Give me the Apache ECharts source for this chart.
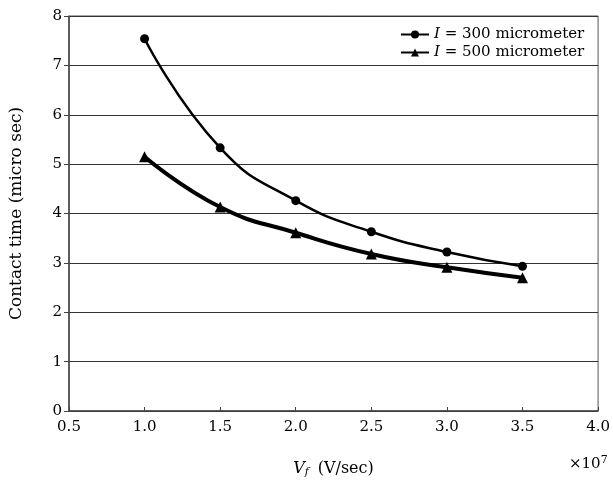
<!DOCTYPE html>
<html>
<head>
<meta charset="utf-8">
<script src="https://cdn.jsdelivr.net/npm/echarts@6/dist/echarts.min.js"></script>
<style>
html,body{margin:0;padding:0;background:#fff;}
#chart{width:613px;height:483px;}
</style>
</head>
<body>
<div id="chart"></div>
<script>
var xValues = [1.0, 1.5, 2.0, 2.5, 3.0, 3.5];
var series300 = [7.54, 5.33, 4.26, 3.63, 3.22, 2.93];
var series500 = [5.15, 4.13, 3.61, 3.18, 2.91, 2.70];
var seriesNames = ['I300', 'I500'];
var legendLabels = { I300: '300', I500: '500' };
var xTicks = [0.5, 1.0, 1.5, 2.0, 2.5, 3.0, 3.5, 4.0];
var yTicks = [0, 1, 2, 3, 4, 5, 6, 7, 8];

function pairs(ys) { return xValues.map(function (x, i) { return [x, ys[i]]; }); }

var FONT = 'DejaVu Serif';
var chart = echarts.init(document.getElementById('chart'), null, { renderer: 'canvas' });
chart.setOption({
  backgroundColor: '#fff',
  animation: false,
  grid: { left: 69, right: 10, top: 16, bottom: 70, show: true, borderColor: '#555', borderWidth: 1, backgroundColor: 'transparent' },
  legend: {
    orient: 'vertical',
    left: 395,
    top: 22,
    itemWidth: 28,
    itemHeight: 10,
    itemGap: 3,
    data: seriesNames,
    formatter: function (n) { return '{i|I} {t|= ' + legendLabels[n] + ' micrometer}'; },
    textStyle: {
      fontFamily: FONT, fontSize: 15, color: '#000',
      rich: {
        i: { fontFamily: FONT, fontStyle: 'italic', fontSize: 15, color: '#000' },
        t: { fontFamily: FONT, fontSize: 15, color: '#000' }
      }
    }
  },
  xAxis: {
    type: 'value',
    min: 0.5, max: 4.0, interval: 0.5,
    axisLine: { show: true, lineStyle: { color: '#444', width: 1.5 } },
    axisTick: { show: true, inside: true, length: 4, lineStyle: { color: '#444' } },
    splitLine: { show: false },
    axisLabel: { fontFamily: FONT, fontSize: 15, color: '#000', margin: 9,
      formatter: function (v) { return v.toFixed(1); } },
    name: '{v|V}{s|f} {t|(V/sec)}',
    nameLocation: 'middle',
    nameGap: 48,
    nameTextStyle: {
      fontFamily: FONT, fontSize: 15, color: '#000',
      rich: {
        v: { fontFamily: FONT, fontStyle: 'italic', fontSize: 16, color: '#000' },
        s: { fontFamily: FONT, fontStyle: 'italic', fontSize: 11, color: '#000', verticalAlign: 'bottom', padding: [8, 0, 0, 0] },
        t: { fontFamily: FONT, fontSize: 16, color: '#000', padding: [0, 0, 0, 4] }
      }
    }
  },
  yAxis: {
    type: 'value',
    min: 0, max: 8, interval: 1,
    axisLine: { show: true, lineStyle: { color: '#444', width: 1.5 } },
    axisTick: { show: true, inside: false, length: 5, lineStyle: { color: '#444' } },
    splitLine: { show: true, lineStyle: { color: '#333', width: 1.2 } },
    axisLabel: { fontFamily: FONT, fontSize: 15, color: '#000', margin: 7 },
    name: 'Contact time (micro sec)',
    nameLocation: 'middle',
    nameGap: 44,
    nameTextStyle: { fontFamily: FONT, fontSize: 17, color: '#000' }
  },
  graphic: [{
    type: 'text',
    left: 569, top: 455,
    style: {
      text: '{m|×10}{e|7}',
      rich: {
        m: { fontFamily: FONT, fontSize: 15, fill: '#000' },
        e: { fontFamily: FONT, fontSize: 11, fill: '#000', verticalAlign: 'top', padding: [0, 0, 8, 0] }
      }
    }
  }],
  series: [
    {
      name: 'I300', type: 'line', smooth: 0.5,
      data: pairs(series300),
      symbol: 'circle', symbolSize: 9,
      lineStyle: { color: '#000', width: 2.5 },
      itemStyle: { color: '#000' }
    },
    {
      name: 'I500', type: 'line', smooth: 0.5,
      data: pairs(series500),
      symbol: 'triangle', symbolSize: 11,
      lineStyle: { color: '#000', width: 4 },
      itemStyle: { color: '#000' }
    }
  ]
});
</script>
</body>
</html>
